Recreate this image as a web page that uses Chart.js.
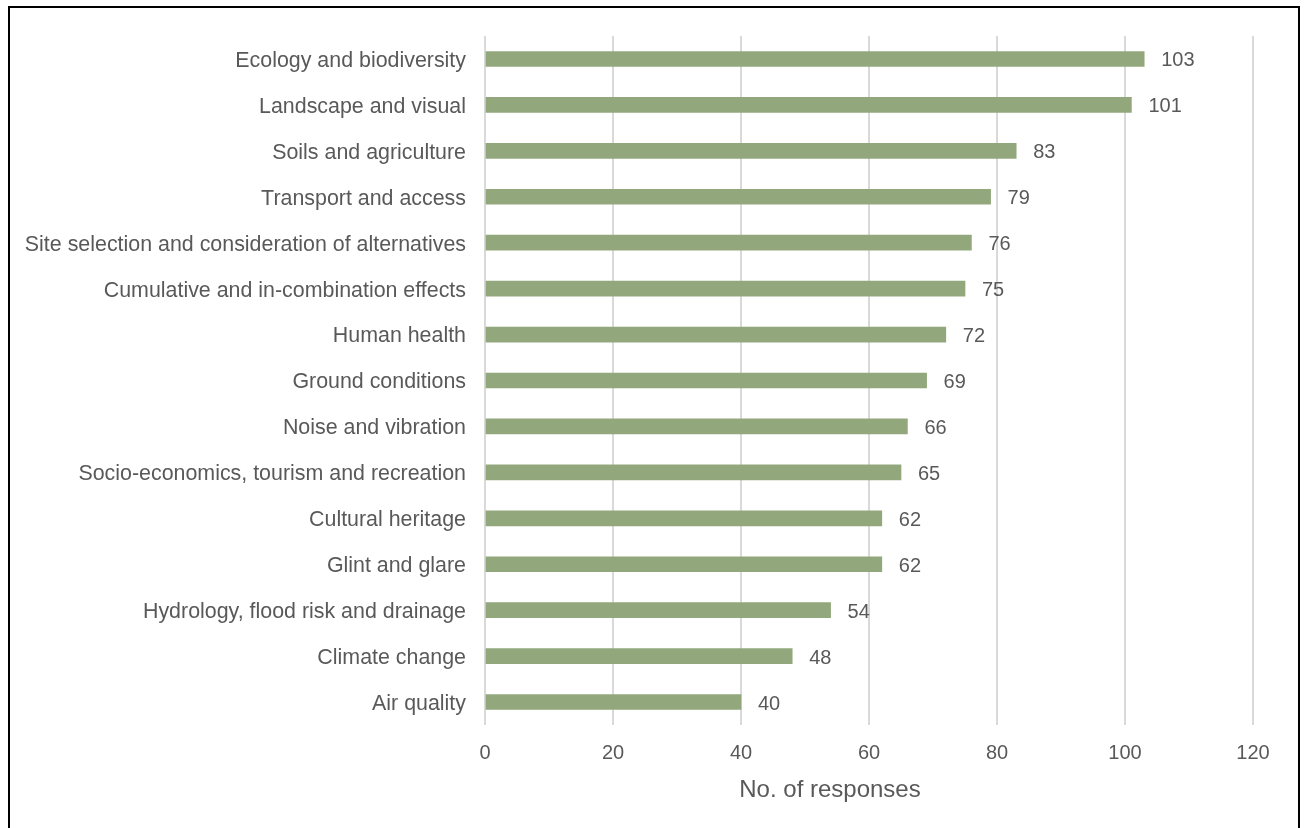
<!DOCTYPE html>
<html>
<head>
<meta charset="utf-8">
<script src="https://cdn.jsdelivr.net/npm/chart.js@4/dist/chart.umd.min.js"></script>
<style>
  html, body { margin: 0; padding: 0; background: #fff; }
  #wrap { position: relative; width: 1306px; height: 828px; overflow: hidden; }
  #frame { position: absolute; left: 8px; top: 6px; width: 1288px; height: 900px; border: 2px solid #000; pointer-events: none; }
  canvas { position: absolute; left: 0; top: 0; }
</style>
</head>
<body>
<div id="wrap">
  <canvas id="chart" width="1306" height="828"></canvas>
  <div id="frame"></div>
</div>
<script>
/*responses per topic*/
var topics = ["Ecology and biodiversity", "Landscape and visual", "Soils and agriculture", "Transport and access",
  "Site selection and consideration of alternatives", "Cumulative and in-combination effects", "Human health",
  "Ground conditions", "Noise and vibration", "Socio-economics, tourism and recreation", "Cultural heritage",
  "Glint and glare", "Hydrology, flood risk and drainage", "Climate change", "Air quality"];
var responses = [103, 101, 83, 79, 76, 75, 72, 69, 66, 65, 62, 62, 54, 48, 40];
var xTicks = [0, 20, 40, 60, 80, 100, 120];
var xTitle = "No. of responses";

const barColour = "#93a77d";
const textColour = "#595959";
const fontName = "'Liberation Sans', Arial, sans-serif";

// draws the number just past the end of each bar, and the axis title
var valueLabels = {
    id: 'valueLabels',
    afterDatasetsDraw: function(chart) {
        var ctx = chart.ctx;
        var meta = chart.getDatasetMeta(0);
        ctx.save();
        ctx.font = "20px " + fontName;
        ctx.fillStyle = textColour;
        ctx.textAlign = "left";
        ctx.textBaseline = "middle";
        meta.data.forEach(function(bar, i) {
            ctx.fillText(responses[i], bar.x + 17, bar.y + 2);
        });
        //title sits a bit left of the plot centre in the original
        ctx.font = "24px " + fontName;
        ctx.textAlign = "center";
        ctx.fillText(xTitle, chart.chartArea.left + 345, 790);
        ctx.restore();
    }
};

var responseChart = new Chart(document.getElementById("chart"), {
    type: 'bar',
    data: {
        labels: topics,
        datasets: [
            {
                label: xTitle,
                backgroundColor: barColour,
                data: responses,
                barThickness: 15
            }
        ]
    },
    options: {
        indexAxis: 'y',
        responsive: false,
        animation: false,
        layout: {
            padding: { top: 36, right: 53, left: 0, bottom: 0 }
        },
        plugins: {
            legend: { display: false },
            tooltip: { enabled: false }
        },
        scales: {
            x: {
                min: 0,
                max: 120,
                afterBuildTicks: function(scale) {
                    scale.ticks = xTicks.map(function(v) { return { value: v }; });
                },
                afterFit: function(scale) { scale.height = 103; },
                grid: { color: "#d9d9d9", lineWidth: 2, drawTicks: false },
                border: { display: false },
                ticks: {
                    color: textColour,
                    padding: 16,
                    font: { family: fontName, size: 20 }
                }
            },
            y: {
                afterFit: function(scale) { scale.width = 485; },
                grid: { display: false, drawTicks: false },
                border: { display: false },
                ticks: {
                    color: textColour,
                    padding: 19,
                    labelOffset: 2,
                    font: { family: fontName, size: 21.4 }
                }
            }
        }
    },
    plugins: [valueLabels]
});
</script>
</body>
</html>
